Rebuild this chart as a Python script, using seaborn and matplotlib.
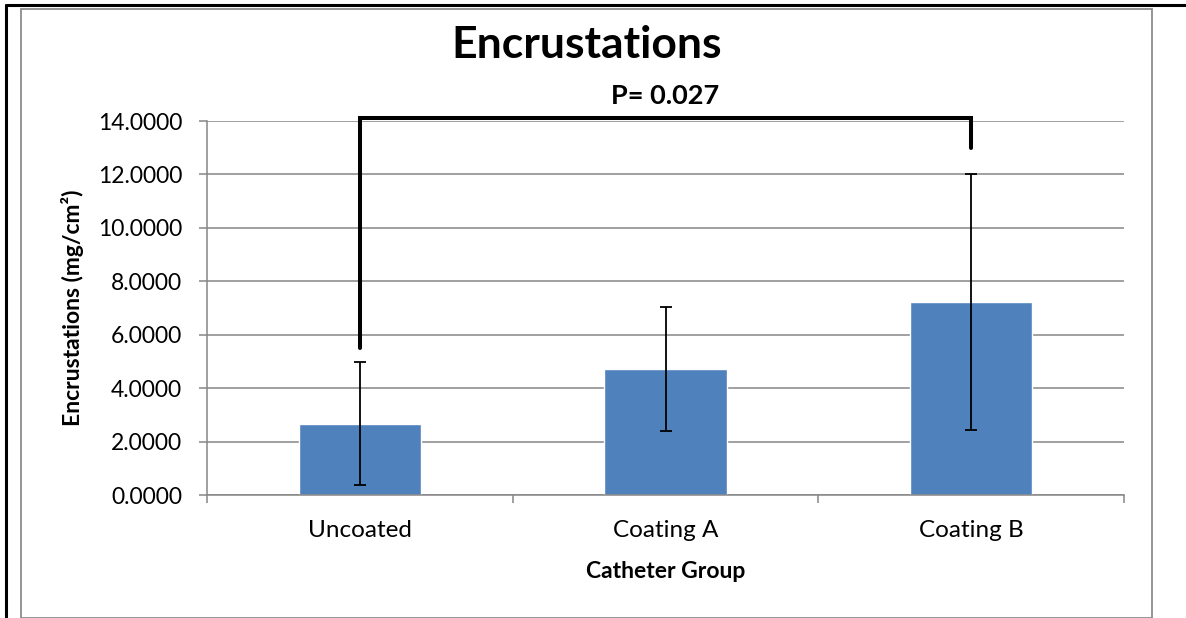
import matplotlib
matplotlib.use("Agg")
import matplotlib.pyplot as plt
import seaborn as sns
import pandas as pd
from matplotlib.lines import Line2D
from matplotlib.patches import Rectangle

sns.set_style("white")
plt.rcParams["font.family"] = ["Lato", "DejaVu Sans"]
plt.rcParams["text.color"] = "black"
plt.rcParams["axes.labelcolor"] = "black"
plt.rcParams["xtick.labelcolor"] = "black"
plt.rcParams["ytick.labelcolor"] = "black"

# --------------------------------------
# DATA
# --------------------------------------
groups = ["Uncoated", "Coating A", "Coating B"]
means = [2.67, 4.72, 7.22]
errors = [2.31, 2.32, 4.80]
yticks = [0, 2, 4, 6, 8, 10, 12, 14]
p_text = "P= 0.027"
bracket_y = [5.5, 14.1, 14.1, 13.0]

df = pd.DataFrame({"Group": groups, "Mean": means})

GRAY = "#868686"
BLUE = "#4F81BD"

fig = plt.figure(figsize=(11.86, 6.18), dpi=100)
W, H = 1186, 618
ax = fig.add_axes([207 / W, 1 - 495 / H, (1124 - 207) / W, (495 - 121) / H])

sns.barplot(data=df, x="Group", y="Mean", color=BLUE, width=0.4,
            errorbar=None, saturation=1, ax=ax, zorder=2)
ax.errorbar(range(len(groups)), means, yerr=errors, fmt="none",
            ecolor="black", elinewidth=1.3, capsize=4.3, capthick=1.3, zorder=3)

ax.set_ylim(0, 14)
ax.set_xlim(-0.5, len(groups) - 0.5)
ax.set_yticks(yticks)
ax.set_yticklabels([f"{v:.4f}" for v in yticks], fontsize=16.5)
ax.yaxis.grid(True, color=GRAY, linewidth=1.1)
ax.set_axisbelow(True)

# category boundary ticks below the x axis
ax.set_xticks([i - 0.5 for i in range(len(groups) + 1)], minor=True)
ax.tick_params(axis="x", which="minor", length=6, width=1.1, color=GRAY, direction="out", bottom=True)
ax.tick_params(axis="x", which="major", length=0, pad=18, labelsize=17.5)
ax.tick_params(axis="y", length=6, width=1.1, color=GRAY, direction="out", left=True, pad=12)

for s in ["top", "right"]:
    ax.spines[s].set_visible(False)
for s in ["left", "bottom"]:
    ax.spines[s].set_color(GRAY)
    ax.spines[s].set_linewidth(1.1)

ax.set_xlabel("Catheter Group", fontsize=16.5, fontweight="bold")
ax.set_ylabel("Encrustations (mg/cm²)", fontsize=16.5, fontweight="bold")
ax.xaxis.set_label_coords(0.5, (495 - 571) / 374, transform=ax.transAxes)
ax.yaxis.set_label_coords((72 - 207) / 917, 0.5, transform=ax.transAxes)
ax.xaxis.label.set_va("center")
ax.yaxis.label.set_va("center")

# significance bracket
ax.add_line(Line2D([0, 0, 2, 2], bracket_y, color="black", linewidth=2.9,
                   clip_on=False, solid_joinstyle="miter", zorder=4))
ax.text(1, 14.94, p_text, ha="center", va="center", fontsize=19.5,
        fontweight="bold", clip_on=False)

fig.text(587 / W, 1 - 45 / H, "Encrustations", ha="center", va="center",
         fontsize=32, fontweight="bold")

# chart border and outer frame
fig.add_artist(Rectangle((21 / W, 0), (1152 - 21) / W, 1 - 9 / H, transform=fig.transFigure,
                         fill=False, edgecolor="#8c8c8c", linewidth=1.3))
fig.add_artist(Line2D([6 / W, 6 / W], [0, 1 - 5 / H], transform=fig.transFigure,
                      color="black", linewidth=2.2))
fig.add_artist(Line2D([6 / W, 1], [1 - 5 / H, 1 - 5 / H], transform=fig.transFigure,
                      color="black", linewidth=2.2))

fig.savefig("out.png", dpi=100)
